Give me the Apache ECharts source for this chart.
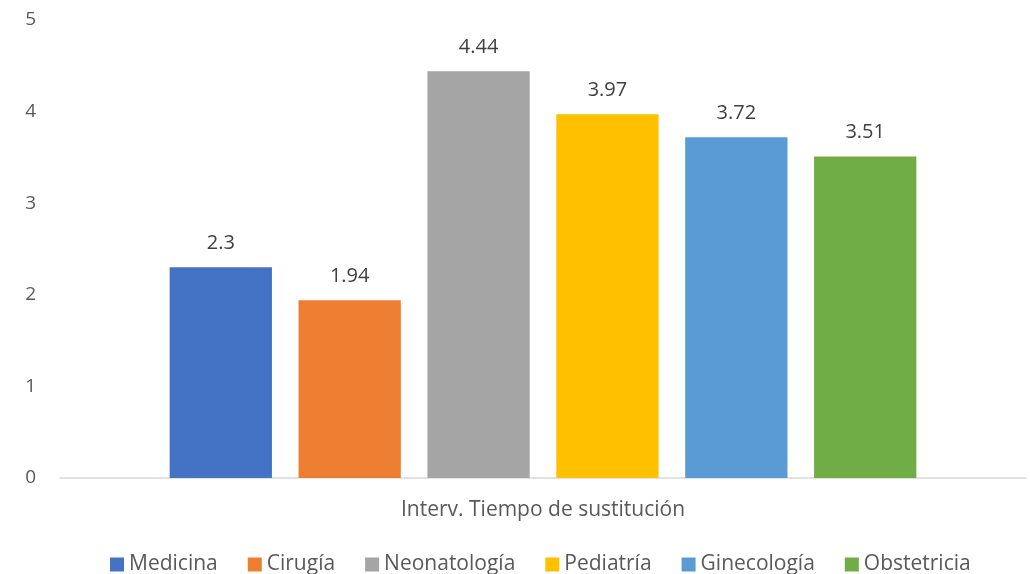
<!DOCTYPE html>
<html>
<head>
<meta charset="utf-8">
<script src="https://cdn.jsdelivr.net/npm/echarts@6/dist/echarts.min.js"></script>
<style>
  html, body { margin: 0; padding: 0; background: #fff; }
  #chart { width: 1030px; height: 574px; }
</style>
</head>
<body>
<div id="chart"></div>
<script>
  var category = ['Interv. Tiempo de sustitución']
  var names = ['Medicina', 'Cirugía', 'Neonatología', 'Pediatría', 'Ginecología', 'Obstetricia']
  var values = [2.3, 1.94, 4.44, 3.97, 3.72, 3.51]
  var colors = ['#4472C4', '#ED7D31', '#A5A5A5', '#FFC000', '#5B9BD5', '#70AD47']

  var font = '"Open Sans", "Noto Sans", sans-serif'
  var myChart = echarts.init(document.getElementById('chart'))

  var series = []
  for (var i = 0; i < names.length; i++) {
    series.push({
      name: names[i],
      type: 'bar',
      data: [values[i]],
      barGap: '26%',
      barCategoryGap: '22.7%',
      itemStyle: { color: colors[i] },
      label: {
        show: true,
        position: 'top',
        distance: 14,
        color: '#404040',
        fontSize: 20,
        fontFamily: font
      }
    })
  }

  var option = {
    animation: false,
    color: colors,
    grid: { left: 60, right: 4, top: 20, bottom: 96 },
    legend: {
      bottom: -6,
      left: 105,
      itemWidth: 14,
      itemHeight: 14,
      itemGap: 30,
      icon: 'rect',
      textStyle: { color: '#595959', fontSize: 21, fontFamily: font },
      data: names
    },
    xAxis: {
      type: 'category',
      data: category,
      axisLine: { lineStyle: { color: '#D9D9D9', width: 1.5 } },
      axisTick: { show: false },
      axisLabel: { color: '#595959', fontSize: 21, fontFamily: font, margin: 22 }
    },
    yAxis: {
      type: 'value',
      min: 0,
      max: 5,
      interval: 1,
      splitLine: { show: false },
      axisLine: { show: false },
      axisTick: { show: false },
      axisLabel: { color: '#595959', fontSize: 19, fontFamily: font, margin: 24 }
    },
    series: series
  }
  myChart.setOption(option)
</script>
</body>
</html>
